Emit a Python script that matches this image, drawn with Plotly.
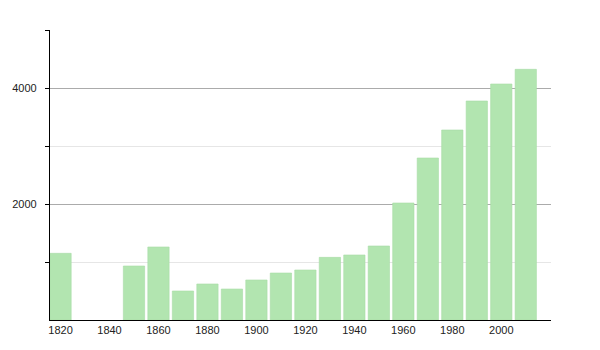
import plotly.graph_objects as go

years = [1820, 1850, 1860, 1870, 1880, 1890, 1900, 1910, 1920, 1930, 1940,
         1950, 1960, 1970, 1980, 1990, 2000, 2010]
population = [1150, 931, 1259, 500, 621, 534, 690, 810, 862, 1080, 1121,
              1276, 2017, 2793, 3276, 3776, 4069, 4322]
x_ticks = [1820, 1840, 1860, 1880, 1900, 1920, 1940, 1960, 1980, 2000]
y_major = [2000, 4000]
y_minor = [1000, 3000, 5000]

fig = go.Figure(go.Bar(
    x=years, y=population, width=8.7,
    marker=dict(color="#b2e5b0", line=dict(color="#a8dba6", width=0.6)),
))

fig.update_layout(
    width=600, height=350,
    margin=dict(l=50, r=49, t=30, b=30),
    plot_bgcolor="white", paper_bgcolor="white",
    showlegend=False,
    font=dict(family="Liberation Sans, Arial, sans-serif", size=11, color="#222"),
)
fig.update_xaxes(
    range=[1815.7, 2020.3],
    tickvals=x_ticks, ticktext=[str(v) for v in x_ticks],
    showgrid=False, zeroline=False,
    showline=True, linecolor="black", linewidth=1.2,
    ticks="", ticklabelstandoff=0,
)
fig.update_yaxes(
    range=[0, 5000],
    tickvals=y_major, ticktext=[str(v) for v in y_major],
    showgrid=True, gridcolor="#ababab", gridwidth=1,
    zeroline=False,
    showline=True, linecolor="black", linewidth=1.2,
    ticks="outside", ticklen=4, tickcolor="black",
    ticklabelstandoff=6,
    minor=dict(tickvals=y_minor, showgrid=True, gridcolor="#e6e6e6",
               ticks="outside", ticklen=4, tickcolor="black"),
)

fig.write_html("out.html")
